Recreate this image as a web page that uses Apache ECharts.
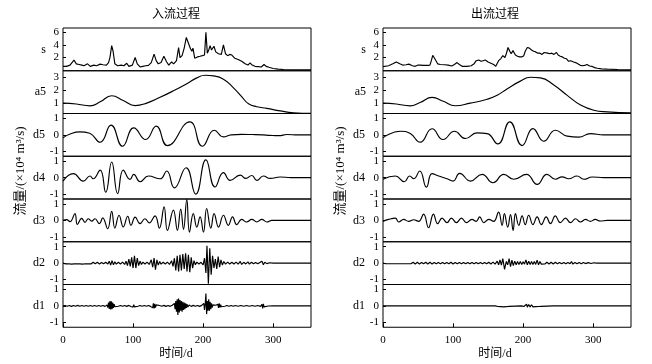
<!DOCTYPE html>
<html><head><meta charset="utf-8">
<script src="https://cdn.jsdelivr.net/npm/echarts@6/dist/echarts.min.js"></script>
<style>html,body{margin:0;padding:0;background:#fff}#c{width:652px;height:364px}</style>
</head><body><div id="c"></div>
<script>
// ---------- labels & ticks ----------
const rowNames = ['s','a5','d5','d4','d3','d2','d1'];
const panelTitles = ['入流过程','出流过程'];
const yLabelText = '流量/(×10⁴ m³/s)';
const xLabelText = '时间/d';
const xTicks = [0,100,200,300];
const sTicks = [2,4,6];
const a5Ticks = [1,2,3];
const dTicks = [-1,0,1];

// ---------- inflow (入流) data: [day, value] ----------
const inS = [[0,0.6],[5,0.6],[10,0.8],[15.7,1.6],[19,1.0],[23,0.9],[27,0.8],[30,0.7],[35,1.0],[39,0.6],[44,0.8],[48,0.7],[53,0.95],[57,0.85],[62,0.8],[65,1.2],[67,2.0],[69.5,3.9],[71.5,3.0],[74,1.0],[78,0.7],[83,0.8],[87,0.7],[91,1.1],[94,0.6],[99,0.8],[103,2.0],[106,1.0],[110,0.5],[114,0.6],[118,0.7],[122,0.75],[126,1.2],[130,2.55],[133,1.5],[136,1.0],[140,1.2],[144,2.2],[148,1.3],[151,0.8],[155,1.3],[158,1.0],[160,0.9],[162,1.5],[165,3.6],[167,2.0],[170,2.3],[173,3.5],[176,5.2],[178,4.6],[180,4.9],[182,3.4],[184,3.0],[185.5,3.5],[188,1.9],[192,2.1],[195.7,2.2],[199,2.3],[202,2.4],[204,6.0],[206,2.7],[208,3.2],[210,3.9],[212,3.2],[215.5,3.8],[218,2.9],[222,2.6],[226,2.5],[229,4.0],[232,2.6],[235,2.3],[238,2.5],[241,2.4],[245,1.9],[250,1.7],[255,1.4],[260,1.0],[264,0.8],[267,1.15],[270,0.8],[274,0.6],[279,0.55],[283,0.5],[287,0.9],[290,0.6],[294,0.45],[300,0.25],[307,0.15],[315,0.1],[330,0.05],[354,0.03]];
const inA5 = [[0,1.0],[19,0.93],[38.6,0.79],[53,1.1],[69.5,1.57],[86,1.2],[103,0.81],[119.5,1.0],[138.6,1.45],[157.6,1.95],[176.7,2.5],[191,2.95],[203,3.15],[214.8,3.1],[229,2.85],[243,2.2],[255,1.5],[264.8,0.95],[276.7,0.72],[291,0.6],[310,0.4],[329,0.26],[354,0.22]];
const inD5 = [[0,-0.18],[10,0.05],[24,0.18],[38,0.1],[53,-0.45],[68.6,0.59],[85,-0.69],[101,0.43],[118,-0.28],[133,0.53],[149,-0.65],[181,0.79],[199,-0.69],[216,0.28],[229,-0.12],[240,0.0],[255,0.03],[270,0.02],[285,0.0],[295,-0.03],[308,-0.05],[320,0.02],[335,0.0],[354,0.0]];
const inD4 = [[0,-0.21],[14.8,0.24],[29,-0.21],[38.6,0.1],[43,-0.07],[53,0.46],[61,-0.89],[69.5,0.95],[78,-0.97],[86,0.46],[95.7,-0.11],[101,0.2],[110,-0.25],[122,0.1],[138.6,-0.07],[148,0.4],[159,-0.62],[175.7,0.6],[189.5,-1.0],[204,1.08],[217,-0.57],[229,0.3],[238.6,-0.17],[253,0.15],[261,-0.05],[269.5,0.13],[276.7,-0.17],[286,0.1],[295.7,-0.05],[310,0.04],[325,0],[354,0]];
const inD3 = [[0,0],[5,0.05],[10,-0.08],[17,0.41],[20.5,-0.25],[26.7,0.12],[31.4,-0.12],[36,0.1],[41,-0.05],[45.7,0.1],[52,-0.2],[56.7,0.15],[63.8,-0.51],[69.5,0.55],[74,-0.47],[80,0.31],[86,-0.4],[92.4,0.25],[97,-0.3],[103,0.2],[110,-0.2],[117,0.1],[123,-0.15],[131.4,0.27],[137.6,-0.47],[144.3,0.82],[149,-0.61],[157.6,0.62],[163.3,-0.61],[168,0.68],[172,-0.55],[176.7,1.28],[180.5,-0.72],[186,0.41],[191,-0.41],[195.7,0.21],[200.5,-0.72],[205,0.72],[211,-0.47],[215.7,0.41],[222,-0.41],[229,0.31],[236,-0.3],[242,0.21],[248,-0.26],[255,0.06],[262,-0.1],[269.5,0.06],[276.7,-0.1],[283.8,0.06],[291,-0.1],[298,0],[354,0]];
const inD2 = [[0,0],[2,0.05],[4,-0.05],[6,0.06],[8,-0.04],[10,0.05],[12,-0.06],[14,0.04],[16,-0.05],[18,0.06],[20,-0.04],[22,0.05],[24,-0.05],[26,0.04],[28,-0.06],[30,0.05],[32,-0.04],[34,0.06],[36,-0.05],[38,0.04],[40,-0.05],[43,0.05],[46,-0.04],[49,0.05],[52,-0.05],[55,0.04],[58,-0.04],[61,0.05],[64,-0.05],[66,0.12],[68,-0.12],[70,0.15],[72,-0.1],[74,0.08],[76,-0.06],[79,0.05],[82,-0.05],[85,0.06],[88,-0.08],[90,0.12],[92,-0.15],[94,0.25],[96,-0.2],[98,0.35],[100,-0.3],[102,0.45],[104,-0.3],[106,0.3],[108,-0.15],[110,0.12],[112,-0.08],[114,0.06],[117,-0.05],[120,0.06],[123,-0.08],[126,0.2],[128,-0.25],[130,0.3],[132,-0.4],[134,0.2],[136,-0.12],[138,0.1],[140,-0.06],[143,0.05],[146,-0.05],[149,0.06],[152,-0.08],[155,0.15],[157,-0.2],[159,0.3],[161,-0.45],[163,0.45],[165,-0.5],[167,0.5],[169,-0.45],[171,0.55],[173,-0.35],[175,0.6],[177,-0.5],[179,0.5],[181,-0.55],[183,0.35],[185,-0.3],[187,0.15],[189,-0.1],[191,0.06],[194,-0.05],[197,0.05],[200,-0.1],[202,0.3],[204,-0.6],[205.5,1.05],[207.5,-1.25],[209.5,0.9],[211.5,-0.7],[213.5,0.45],[215.5,-0.3],[217.5,0.25],[219.5,-0.35],[221.5,0.4],[223.5,-0.25],[225.5,0.2],[227.5,-0.12],[229.5,0.1],[232,-0.06],[235,0.06],[238,-0.05],[241,0.05],[244,-0.05],[247,0.06],[250,-0.06],[253,0.1],[255,-0.08],[258,0.05],[261,-0.05],[264,0.08],[266,-0.06],[269,0.05],[272,-0.04],[275,0.04],[278,-0.04],[281,0.04],[284,0.12],[286,-0.1],[288,0.05],[291,-0.03],[295,0.02],[300,0],[354,0]];
const inD1 = [[0,0],[3,0.02],[6,-0.02],[9,0.02],[12,-0.03],[15,0.02],[18,-0.02],[21,0.03],[24,-0.02],[27,0.02],[30,-0.02],[33,0.02],[36,-0.02],[39,0.02],[42,-0.02],[45,0.02],[48,-0.02],[51,0.02],[54,-0.02],[57,0.02],[60,-0.03],[63,0.05],[64,-0.1],[65,0.2],[66,-0.18],[67,0.3],[68,-0.22],[69,0.28],[70,-0.2],[71,0.2],[72,-0.12],[73,0.1],[74,-0.05],[76,0.03],[79,-0.02],[82,0.02],[85,-0.02],[88,0.02],[91,-0.03],[94,0.03],[97,-0.04],[99,0.06],[100,-0.08],[101,0.08],[102,-0.06],[104,0.04],[107,-0.02],[110,0.02],[113,-0.02],[116,0.02],[119,-0.02],[122,0.02],[125,-0.03],[127,0.06],[128,-0.12],[129,0.15],[130,-0.15],[131,0.12],[132,-0.1],[133,0.06],[135,-0.03],[138,0.02],[141,-0.02],[144,0.03],[147,-0.03],[150,0.02],[153,-0.03],[156,0.04],[158,-0.08],[159,0.15],[160,-0.2],[161,0.3],[162,-0.35],[163,0.4],[164,-0.55],[165,0.45],[166,-0.4],[167,0.35],[168,-0.3],[169,0.3],[170,-0.35],[171,0.25],[172,-0.25],[173,0.2],[174,-0.2],[175,0.15],[176,-0.12],[177,0.1],[178,-0.08],[180,0.05],[183,-0.03],[186,0.03],[189,-0.02],[192,0.02],[195,-0.03],[198,0.03],[200,-0.08],[201,0.15],[202,-0.25],[203,0.1],[204,0.75],[205,-0.5],[206,0.3],[207,-0.3],[208,0.4],[209,-0.3],[210,0.25],[211,-0.2],[212,0.15],[213,-0.1],[214,0.06],[216,-0.04],[218,0.04],[220,-0.06],[221,0.1],[222,-0.12],[223,0.15],[224,-0.1],[225,0.08],[226,-0.05],[228,0.03],[231,-0.02],[234,0.02],[237,-0.02],[240,0.02],[243,-0.02],[246,0.02],[250,-0.02],[254,0.02],[258,-0.02],[262,0.02],[266,-0.02],[270,0.02],[274,-0.02],[278,0.02],[282,-0.03],[284,0.1],[285,-0.15],[286,0.12],[287,-0.06],[289,0.02],[293,-0.01],[300,0],[354,0]];

// ---------- outflow (出流) data: [day, value] ----------
const outS = [[0,0.55],[8,0.7],[14,1.0],[19,1.3],[24,1.0],[28,0.8],[33,0.85],[37,0.95],[42,0.7],[46,0.6],[50,0.8],[53,0.8],[58,0.75],[63,0.75],[67,0.8],[69,1.5],[71,2.36],[73,2.1],[75,1.6],[78,1.0],[82,0.9],[88,0.85],[93,0.8],[98,0.65],[102,0.9],[105.6,1.2],[109,0.9],[113,0.6],[120,0.6],[126,0.7],[130,1.0],[133,1.5],[136.6,1.6],[140,1.4],[143,1.5],[146,1.6],[150,1.3],[154,1.1],[158,0.9],[161,0.6],[165,1.5],[168,1.8],[171,2.3],[174,2.0],[176,2.6],[178.5,3.6],[181,3.0],[183,2.6],[185.5,3.1],[189,2.4],[192,2.2],[195,2.1],[198,2.1],[201,2.3],[203,3.0],[206,3.6],[209,3.5],[212,3.2],[215,3.0],[218,2.9],[221,2.7],[224,2.7],[227,2.5],[230,2.8],[232.5,3.1],[235,2.7],[238,2.6],[241,2.7],[244,2.5],[247.6,2.8],[250,2.4],[253,2.2],[256,2.1],[259,1.9],[262,1.8],[265,1.4],[268,1.5],[272,1.3],[275,1.2],[278,1.0],[281,0.8],[284,0.7],[288,0.75],[291,0.9],[295,0.65],[298,0.6],[302,0.4],[306,0.3],[312,0.2],[320,0.15],[335,0.1],[354,0.05]];
const outA5 = [[0,1.0],[19,0.93],[38.6,0.79],[53,1.05],[70,1.44],[86,1.15],[103,0.8],[124.6,1.0],[148.6,1.3],[162.9,1.6],[177,2.1],[196,2.7],[210.4,3.0],[224.8,2.95],[243.8,2.4],[263,1.6],[282,0.85],[301,0.45],[320,0.33],[354,0.25]];
const outD5 = [[0,-0.18],[24.8,0.22],[39,0.08],[53,-0.45],[70,0.37],[85.7,-0.28],[102,0.22],[117.6,-0.22],[134,0.12],[148.6,0.08],[163.8,-0.55],[181,0.79],[198.6,-0.65],[214,0.38],[229.5,-0.39],[246,0.28],[263,-0.08],[279.5,-0.14],[296,0.08],[315,0.0],[354,0]];
const outD4 = [[0,-0.1],[17.6,0.1],[30.5,-0.25],[38,0.1],[43.8,-0.07],[52.4,0.4],[62,-0.58],[70,0.24],[79.5,0.1],[91.4,-0.07],[100,-0.21],[109.5,0.26],[124.8,-0.21],[141.4,0.2],[157,-0.31],[172.4,0.2],[186.7,-0.1],[204.8,0.2],[220,-0.41],[234,0.2],[246,-0.1],[255.7,0.05],[265,-0.07],[277,0.1],[286.7,-0.1],[298.6,0.04],[315,0],[354,0]];
const outD3 = [[0,-0.06],[8,0.06],[17.6,0.14],[22.4,-0.1],[29.5,0.06],[36.7,-0.06],[43.8,0.04],[51,-0.06],[58,0.38],[65,-0.45],[72,0.38],[78,-0.2],[84.3,0.14],[91.4,-0.14],[97.6,0.14],[104.8,-0.14],[112,0.14],[119,-0.14],[127,0.06],[133,-0.06],[138,0.21],[143.8,-0.14],[151,0.06],[158,-0.06],[165,0.5],[170,-0.3],[173.3,0.41],[178,-0.41],[182,0.35],[185.7,-0.61],[189,0.41],[193.8,-0.3],[198.6,0.27],[203,-0.26],[208,0.31],[214,-0.26],[220,0.21],[226,-0.26],[232.9,0.21],[239,-0.2],[246,0.27],[253,-0.14],[260.5,0.14],[267.6,-0.14],[274.8,0.1],[281.9,-0.1],[289,0.06],[296,-0.06],[303,0.06],[310,-0.04],[320,0],[354,0]];
const outD2 = [[0,0],[2,0.04],[4,-0.04],[6,0.04],[8,-0.04],[10,0.04],[12,-0.04],[14,0.04],[16,-0.04],[18,0.04],[20,-0.04],[22,0.04],[24,-0.04],[26,0.04],[28,-0.04],[30,0.04],[32,-0.04],[34,0.04],[36,-0.04],[38,0.04],[40,-0.04],[43,0.05],[46,-0.05],[49,0.05],[52,-0.05],[55,0.04],[58,-0.04],[61,0.05],[64,-0.05],[67,0.05],[70,-0.05],[73,0.04],[76,-0.04],[79,0.04],[82,-0.04],[85,0.04],[88,-0.04],[91,0.04],[94,-0.04],[97,0.05],[100,-0.05],[103,0.04],[106,-0.04],[109,0.04],[112,-0.04],[115,0.04],[118,-0.04],[121,0.04],[124,-0.04],[127,0.04],[130,-0.04],[133,0.04],[136,-0.04],[139,0.04],[142,-0.04],[145,0.04],[148,-0.04],[151,0.05],[154,-0.05],[157,0.06],[160,-0.06],[163,0.12],[165,-0.1],[167,0.2],[169,-0.12],[171,0.28],[173.5,-0.38],[176,0.1],[178,-0.1],[180,0.28],[182,-0.22],[184,0.18],[186,-0.15],[188,0.12],[190,-0.1],[192,0.1],[194,-0.08],[196,0.1],[198,-0.08],[200,0.08],[202,-0.06],[204,0.2],[206,-0.1],[208,0.12],[210,-0.08],[212,0.1],[214,-0.08],[216,0.1],[218,-0.08],[220,0.18],[222,-0.1],[224,0.1],[226,-0.06],[228,0.06],[231,-0.05],[234,0.05],[237,-0.05],[240,0.05],[243,-0.05],[246,0.05],[249,-0.04],[252,0.04],[255,-0.04],[258,0.04],[261,-0.04],[264,0.04],[267,-0.04],[269,0.1],[271,-0.06],[274,0.04],[277,-0.04],[280,0.04],[283,-0.04],[286,0.04],[289,-0.03],[293,0.03],[297,-0.02],[301,0.02],[305,0],[354,0]];
const outD1 = [[0,0],[20,0],[21,0.03],[22,-0.03],[23,0],[60,0],[61,0.03],[62,-0.03],[63,0],[100,0],[101,0.05],[102,-0.05],[103,0],[125,0],[126,0.03],[127,-0.03],[128,0],[145,0],[146,0.03],[147,-0.03],[148,0],[160,0],[162,0.04],[164,-0.04],[166,0.05],[168,-0.05],[170,0.06],[172,-0.06],[174,0.05],[176,-0.05],[178,0.04],[180,-0.03],[182,0],[198,0],[200,0.05],[201,-0.04],[202,0.08],[203,-0.06],[205,0.1],[206,-0.08],[208,0.08],[210,-0.06],[212,0.07],[214,-0.06],[216,0.06],[218,-0.05],[220,0.05],[222,-0.04],[224,0.04],[226,-0.03],[228,0],[243,0],[244,0.04],[245,-0.04],[246,0],[265,0],[266,0.03],[267,-0.03],[268,0],[286,0],[287,0.03],[288,-0.03],[289,0],[354,0]];

const panels = [
  [inS, inA5, inD5, inD4, inD3, inD2, inD1],
  [outS, outA5, outD5, outD4, outD3, outD2, outD1]
];

// ---------- layout / style ----------
const panelLeft = [63, 383];
const panelWidth = 248;
const top0 = 28, rowH = 42.75;
const numFont = "'Liberation Serif', 'Times New Roman', serif";
const cjkFont = "'Liberation Serif', 'Noto Sans CJK SC', serif";
const rowRange = [[-0.1,6.7],[0.2,3.5],[-1.3,1.3],[-1.3,1.3],[-1.3,1.3],[-1.3,1.3],[-1.3,1.3]];
const rowTicks = [sTicks, a5Ticks, dTicks, dTicks, dTicks, dTicks, dTicks];
const rowSmooth = [false, 0.5, 0.5, 0.5, 0.45, false, false];

const grids = [], xAxes = [], yAxes = [], series = [];
for (let p = 0; p < 2; p++) {
  for (let r = 0; r < 7; r++) {
    const idx = p * 7 + r;
    const last = r === 6;
    grids.push({left: panelLeft[p], width: panelWidth, top: top0 + r * rowH, height: rowH,
      show: true, borderColor: '#000', borderWidth: 1, backgroundColor: 'transparent'});
    xAxes.push({gridIndex: idx, type: 'value', min: 0, max: 354, position: 'bottom',
      axisLine: {show: false, onZero: false}, splitLine: {show: false},
      axisTick: last ? {show: true, inside: true, length: 4, customValues: xTicks, lineStyle: {color: '#000'}} : {show: false},
      axisLabel: last ? {show: true, customValues: xTicks, margin: 7, color: '#000', fontSize: 11, fontFamily: numFont} : {show: false}
    });
    yAxes.push({gridIndex: idx, type: 'value', min: rowRange[r][0], max: rowRange[r][1],
      axisLine: {show: false, onZero: false}, splitLine: {show: false},
      axisTick: {show: true, inside: true, length: 3, customValues: rowTicks[r], lineStyle: {color: '#000'}},
      axisLabel: {show: true, customValues: rowTicks[r], margin: 4, color: '#000', fontSize: 11, fontFamily: numFont},
      name: rowNames[r], nameLocation: 'middle', nameRotate: 0, nameGap: 17,
      nameTextStyle: {color: '#000', fontSize: 12, fontFamily: numFont}
    });
    series.push({type: 'line', xAxisIndex: idx, yAxisIndex: idx, data: panels[p][r],
      showSymbol: false, symbol: 'none', smooth: rowSmooth[r], animation: false,
      lineStyle: {color: '#000', width: 1.15}});
  }
}

const graphics = [];
const titleX = [176, 495];
const yLabelX = [21, 341];
for (let p = 0; p < 2; p++) {
  graphics.push({type: 'text', x: titleX[p], y: 15, style: {text: panelTitles[p], font: '12px ' + cjkFont, fill: '#000', textAlign: 'center', textVerticalAlign: 'middle'}});
  graphics.push({type: 'text', x: titleX[p], y: 354, style: {text: xLabelText, font: '12px ' + cjkFont, fill: '#000', textAlign: 'center', textVerticalAlign: 'middle'}});
  graphics.push({type: 'text', x: yLabelX[p], y: 171, rotation: Math.PI / 2, style: {text: yLabelText, font: '13px ' + cjkFont, fill: '#000', textAlign: 'center', textVerticalAlign: 'middle'}});
}

const chart = echarts.init(document.getElementById('c'));
chart.setOption({animation: false, backgroundColor: '#fff', grid: grids, xAxis: xAxes, yAxis: yAxes, series: series, graphic: graphics});
</script></body></html>
